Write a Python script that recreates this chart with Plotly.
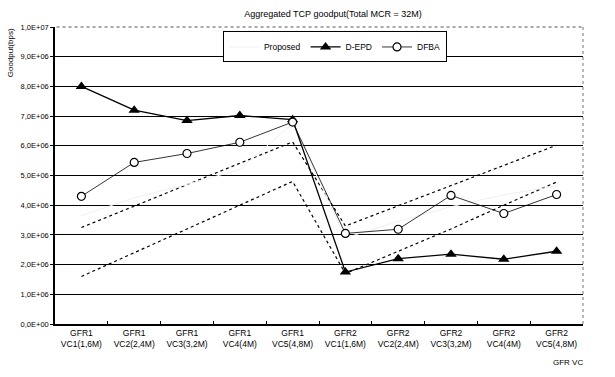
import plotly.graph_objects as go

categories = ["GFR1<br>VC1(1,6M)", "GFR1<br>VC2(2,4M)", "GFR1<br>VC3(3,2M)", "GFR1<br>VC4(4M)", "GFR1<br>VC5(4,8M)",
              "GFR2<br>VC1(1,6M)", "GFR2<br>VC2(2,4M)", "GFR2<br>VC3(3,2M)", "GFR2<br>VC4(4M)", "GFR2<br>VC5(4,8M)"]

proposed = [3.65e6, 4.25e6, 4.7e6, 5.2e6, 6.75e6, 2.9e6, 3.45e6, 3.95e6, 4.35e6, 4.65e6]
d_epd = [8.0e6, 7.2e6, 6.85e6, 7.02e6, 6.88e6, 1.75e6, 2.2e6, 2.35e6, 2.18e6, 2.45e6]
dfba = [4.3e6, 5.44e6, 5.74e6, 6.12e6, 6.8e6, 3.05e6, 3.19e6, 4.33e6, 3.72e6, 4.36e6]
upper_ref = [3.25e6, 3.97e6, 4.69e6, 5.41e6, 6.13e6, 3.3e6, 3.98e6, 4.66e6, 5.34e6, 6.02e6]
mcr_ref = [1.6e6, 2.4e6, 3.2e6, 4.0e6, 4.8e6, 1.7e6, 2.45e6, 3.2e6, 4.0e6, 4.78e6]

y_ticks = [0, 1e6, 2e6, 3e6, 4e6, 5e6, 6e6, 7e6, 8e6, 9e6, 1e7]
y_labels = ["0,0E+00", "1,0E+06", "2,0E+06", "3,0E+06", "4,0E+06", "5,0E+06",
            "6,0E+06", "7,0E+06", "8,0E+06", "9,0E+06", "1,0E+07"]

FONT = "Arial, Liberation Sans, sans-serif"

fig = go.Figure()
fig.add_trace(go.Scatter(x=categories, y=upper_ref, mode="lines", showlegend=False,
                         line=dict(color="black", width=1.2, dash="dot"), name="ref1"))
fig.add_trace(go.Scatter(x=categories, y=mcr_ref, mode="lines", showlegend=False,
                         line=dict(color="black", width=1.2, dash="dot"), name="MCR"))
fig.add_trace(go.Scatter(x=categories, y=proposed, mode="lines", name="Proposed",
                         line=dict(color="#f0f0f0", width=1)))
fig.add_trace(go.Scatter(x=categories, y=d_epd, mode="lines+markers", name="D-EPD",
                         line=dict(color="black", width=1.3),
                         marker=dict(symbol="triangle-up", size=10, color="black")))
fig.add_trace(go.Scatter(x=categories, y=dfba, mode="lines+markers", name="DFBA",
                         line=dict(color="black", width=0.8),
                         marker=dict(symbol="circle", size=8, color="white",
                                     line=dict(color="black", width=1.2))))

fig.update_layout(
    width=615, height=377,
    margin=dict(l=55, r=32, t=27, b=53),
    paper_bgcolor="white", plot_bgcolor="white",
    font=dict(family=FONT, size=8, color="black"),
    title=dict(text="Aggregated TCP goodput(Total MCR = 32M)", x=333/615, xanchor="center",
               y=1-14/377, yanchor="middle", font=dict(size=9, family=FONT, color="black")),
    legend=dict(orientation="h", x=0.318, xanchor="left", y=0.985, yanchor="top",
                bgcolor="white", bordercolor="black", borderwidth=1,
                font=dict(size=8.5, family=FONT), itemwidth=30, tracegroupgap=0),
    showlegend=True,
)
fig.update_xaxes(type="category", range=[-0.5, 9.5], showline=True, linecolor="black", linewidth=1.5,
                 ticks="inside", ticklen=3, tickcolor="black", tickson="boundaries",
                 showgrid=False, tickfont=dict(size=8.5, family=FONT), zeroline=False)
fig.update_yaxes(range=[0, 1e7], tickvals=y_ticks, ticktext=y_labels, showline=True,
                 linecolor="black", linewidth=1.5, ticks="outside", ticklen=3, tickcolor="black",
                 showgrid=True, gridcolor="black", gridwidth=1.3, zeroline=False,
                 tickfont=dict(size=7.5, family=FONT))

# dotted frame on top and right
fig.add_shape(type="line", xref="paper", yref="paper", x0=0.003, x1=1, y0=1, y1=1,
              line=dict(color="white", width=3), layer="above")
fig.add_shape(type="line", xref="paper", yref="paper", x0=0.003, x1=1, y0=1, y1=1,
              line=dict(color="#555555", width=1, dash="dot"), layer="above")
fig.add_shape(type="line", xref="paper", yref="paper", x0=1, x1=1, y0=0, y1=1,
              line=dict(color="#777777", width=1, dash="dot"), layer="above")

fig.add_annotation(text="Goodput(bps)", xref="paper", yref="paper", x=-0.085, y=0.912,
                   xanchor="center", yanchor="middle",
                   textangle=-90, showarrow=False, font=dict(size=8, family=FONT))
fig.add_annotation(text="GFR VC", xref="paper", yref="paper", x=1.003, y=-0.131,
                   xanchor="right", yanchor="middle", showarrow=False, font=dict(size=8, family=FONT))

fig.write_html("out.html", config={"displayModeBar": False},
               post_script="document.body.style.margin='0';")
